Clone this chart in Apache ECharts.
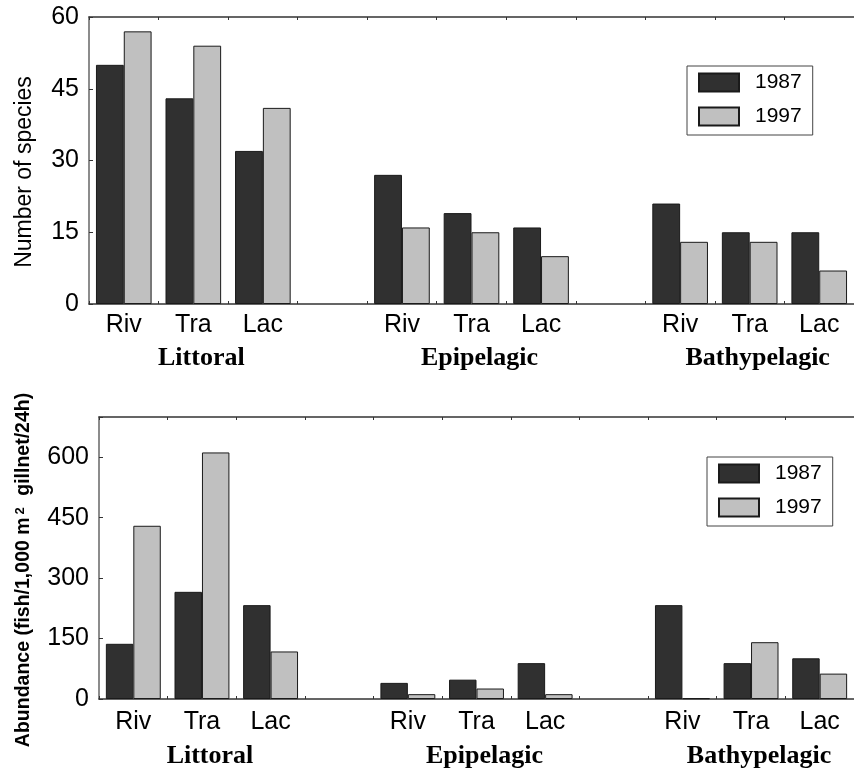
<!DOCTYPE html>
<html><head><meta charset="utf-8">
<script src="https://cdn.jsdelivr.net/npm/echarts@6/dist/echarts.min.js"></script>
<style>html,body{margin:0;padding:0;background:#fff}#c{width:854px;height:769px}</style>
</head><body><div id="c"></div>
<script>
// ---- data ----
const categories = ['Riv','Tra','Lac','','Riv','Tra','Lac','','Riv','Tra','Lac'];
const groupNames = ['Littoral','Epipelagic','Bathypelagic'];
const groupCenterIdx = [1, 5, 9];
const years = ['1987','1997'];
const species1987 = [50, 43, 32, null, 27, 19, 16, null, 21, 15, 15];
const species1997 = [57, 54, 41, null, 16, 15, 10, null, 13, 13, 7];
const abund1987 = [137, 266, 233, null, 40, 48, 89, null, 233, 89, 101];
const abund1997 = [430, 612, 118, null, 12, 26, 12, null, 2, 141, 63];
const speciesTicks = [0, 15, 30, 45, 60];
const abundTicks = [0, 150, 300, 450, 600];

const SANS = '"Liberation Sans", Arial, sans-serif';
const SERIF = '"Liberation Serif", "Times New Roman", serif';
const DARK = '#303030', LIGHT = '#c0c0c0';
const axisKeys = categories.map((c, i) => 'k' + i);

function xAx(grid, pos, labels, margin) {
  return {
    type: 'category', gridIndex: grid, position: pos, data: axisKeys,
    axisLine: { show: true, lineStyle: { color: '#333', width: 1.5 } },
    axisTick: { show: true, inside: true, length: 3, lineStyle: { color: '#333' } },
    axisLabel: labels ? { show: true, margin: margin, fontSize: 25, fontFamily: SANS, color: '#000',
      formatter: (v, i) => categories[i] } : { show: false },
    splitLine: { show: false }
  };
}
function yAx(grid, max, interval, ticks) {
  return {
    type: 'value', gridIndex: grid, min: 0, max: max, interval: interval,
    axisLine: { show: true, lineStyle: { color: '#666', width: 1.5 } },
    axisTick: { show: true, inside: true, length: 4, lineStyle: { color: '#333' } },
    axisLabel: { margin: 10, fontSize: 25, fontFamily: SANS, color: '#000',
      formatter: v => ticks.indexOf(v) >= 0 ? String(v) : '' },
    splitLine: { show: false }
  };
}
function bar(name, data, grid, color) {
  return {
    type: 'bar', name: name, data: data, xAxisIndex: grid * 2, yAxisIndex: grid,
    barGap: '0%', barCategoryGap: '20%',
    itemStyle: { color: color, borderColor: '#1a1a1a', borderWidth: 1 },
    emphasis: { disabled: true }
  };
}
function leg(left, top) {
  return {
    orient: 'vertical', left: left, top: top, data: years, icon: 'rect',
    itemWidth: 40, itemHeight: 18, itemGap: 13, padding: [6, 11, 8, 11],
    borderColor: '#444', borderWidth: 1, selectedMode: false,
    textStyle: { fontSize: 21, fontFamily: SANS, color: '#000', padding: [0, 0, 0, 11], lineHeight: 18 }
  };
}

const chart = echarts.init(document.getElementById('c'), null, { renderer: 'canvas' });
chart.setOption({
  animation: false,
  backgroundColor: '#fff',
  grid: [
    { left: 89, top: 17, width: 770, height: 287 },
    { left: 99, top: 417, width: 770, height: 282 }
  ],
  xAxis: [
    xAx(0, 'bottom', true, 9), xAx(0, 'top', false),
    xAx(1, 'bottom', true, 11), xAx(1, 'top', false)
  ],
  yAxis: [ yAx(0, 60, 15, speciesTicks), yAx(1, 700, 150, abundTicks) ],
  legend: [ leg(687, 66), leg(707, 457) ],
  series: [
    bar(years[0], species1987, 0, DARK), bar(years[1], species1997, 0, LIGHT),
    bar(years[0], abund1987, 1, DARK), bar(years[1], abund1997, 1, LIGHT)
  ]
});

const graphics = [];
const groupY = [358, 756];
[0, 2].forEach((axIdx, g) => {
  groupCenterIdx.forEach((ci, k) => {
    const x = chart.convertToPixel({ xAxisIndex: axIdx }, ci) + 8;
    graphics.push({ type: 'text', x: x, y: groupY[g], silent: true,
      style: { text: groupNames[k], font: 'bold 26px ' + SERIF, fill: '#000', align: 'center', verticalAlign: 'middle' } });
  });
});
graphics.push({ type: 'text', x: 25, y: 172, rotation: Math.PI / 2, silent: true,
  style: { text: 'Number of species', font: '23px ' + SANS, fill: '#000', align: 'center', verticalAlign: 'middle' } });
graphics.push({ type: 'text', x: 24, y: 570, rotation: Math.PI / 2, silent: true,
  style: { text: 'Abundance (fish/1,000 m{sup|2} gillnet/24h)', font: 'bold 19.5px ' + SANS, fill: '#000',
    align: 'center', verticalAlign: 'middle',
    rich: { sup: { fontSize: 13, fontWeight: 'bold', fontFamily: SANS, fill: '#000', verticalAlign: 'top', padding: [0, 6, 0, 3] } } } });
chart.setOption({ graphic: graphics });
</script></body></html>
